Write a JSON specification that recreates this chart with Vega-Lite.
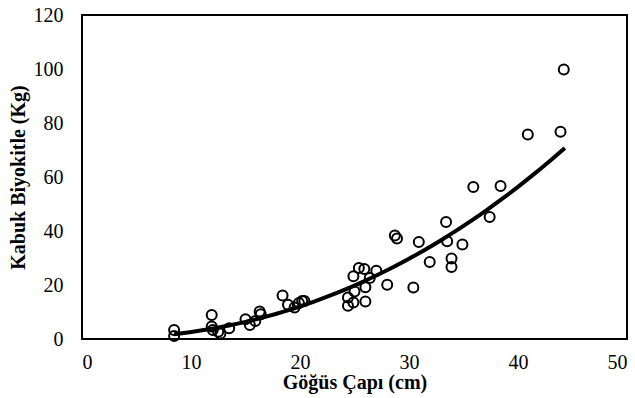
{
  "$schema": "https://vega.github.io/schema/vega-lite/v6.json",
  "width": 545,
  "height": 324,
  "autosize": "none",
  "padding": {"left": 82, "top": 15, "right": 8, "bottom": 59},
  "background": "white",
  "config": {
    "font": "Liberation Serif",
    "view": {"stroke": "black", "strokeWidth": 2},
    "axis": {"grid": false, "ticks": false, "domain": false, "labelFont": "Liberation Serif", "labelFontSize": 20, "labelColor": "black", "titleFont": "Liberation Serif", "titleFontSize": 20, "titleFontWeight": "bold", "titleColor": "black"}
  },
  "data": {
    "values": [
      {"x": 8.45, "y": 3.3}, {"x": 8.45, "y": 1.1}, {"x": 11.9, "y": 8.9}, {"x": 11.9, "y": 4.6},
      {"x": 12.0, "y": 3.3}, {"x": 12.5, "y": 2.7}, {"x": 12.7, "y": 2.0}, {"x": 13.5, "y": 4.0},
      {"x": 15.0, "y": 7.3}, {"x": 15.4, "y": 5.2}, {"x": 15.9, "y": 6.7}, {"x": 16.3, "y": 10.2},
      {"x": 16.4, "y": 9.2}, {"x": 18.4, "y": 16.1}, {"x": 18.9, "y": 12.7}, {"x": 19.5, "y": 11.7},
      {"x": 19.9, "y": 13.3}, {"x": 20.2, "y": 14.1}, {"x": 20.4, "y": 14.1}, {"x": 24.4, "y": 15.4},
      {"x": 24.4, "y": 12.3}, {"x": 24.9, "y": 13.5}, {"x": 25.0, "y": 17.6}, {"x": 24.9, "y": 23.2},
      {"x": 25.4, "y": 26.3}, {"x": 25.9, "y": 25.9}, {"x": 26.0, "y": 19.2}, {"x": 26.0, "y": 13.9},
      {"x": 26.4, "y": 22.6}, {"x": 27.0, "y": 25.3}, {"x": 28.0, "y": 20.1}, {"x": 28.7, "y": 38.3},
      {"x": 28.9, "y": 37.2}, {"x": 30.4, "y": 19.1}, {"x": 30.9, "y": 35.9}, {"x": 31.9, "y": 28.5},
      {"x": 33.4, "y": 43.3}, {"x": 33.5, "y": 36.2}, {"x": 33.9, "y": 29.8}, {"x": 33.9, "y": 26.7},
      {"x": 34.9, "y": 35.0}, {"x": 35.9, "y": 56.3}, {"x": 37.4, "y": 45.2}, {"x": 38.4, "y": 56.7},
      {"x": 40.9, "y": 75.7}, {"x": 43.9, "y": 76.8}, {"x": 44.2, "y": 99.8}
    ]
  },
  "layer": [
    {
      "mark": {"type": "point", "shape": "circle", "filled": false, "stroke": "black", "strokeWidth": 2, "size": 100, "opacity": 1},
      "encoding": {
        "x": {"field": "x", "type": "quantitative", "scale": {"domain": [0, 50]}, "axis": {"values": [0, 10, 20, 30, 40, 50], "title": "Göğüs Çapı (cm)", "labelPadding": 13, "titlePadding": 0}},
        "y": {"field": "y", "type": "quantitative", "scale": {"domain": [0, 120]}, "axis": {"values": [0, 20, 40, 60, 80, 100, 120], "title": "Kabuk Biyokitle (Kg)", "labelPadding": 19, "titlePadding": 5}}
      }
    },
    {
      "transform": [{"regression": "y", "on": "x", "method": "pow", "extent": [8.45, 44.3]}],
      "mark": {"type": "line", "color": "black", "strokeWidth": 4, "interpolate": "monotone"},
      "encoding": {
        "x": {"field": "x", "type": "quantitative"},
        "y": {"field": "y", "type": "quantitative"}
      }
    }
  ]
}
